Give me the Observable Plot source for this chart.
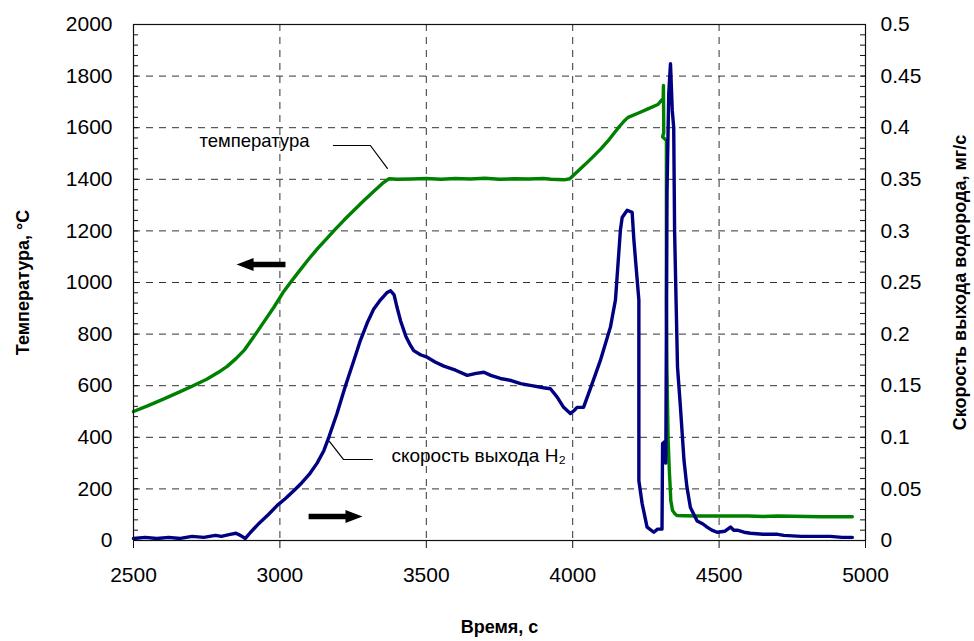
<!DOCTYPE html>
<html>
<head>
<meta charset="utf-8">
<script src="https://cdn.jsdelivr.net/npm/d3@7"></script>
<script src="https://cdn.jsdelivr.net/npm/@observablehq/plot@0.6"></script>
<style>
  html, body { margin: 0; padding: 0; background: #fff; }
  #chart svg { display: block; }
</style>
</head>
<body>
<div id="chart"></div>
<script>
// ---- Data ----
// Temperature, °C (left axis)
const tempTime = [2500, 2550, 2600, 2650, 2700, 2750, 2790, 2820, 2850, 2880, 2917, 2950, 2980, 3010, 3036, 3070, 3100, 3130, 3160, 3184, 3220, 3260, 3287, 3320, 3350, 3372, 3400, 3450, 3500, 3550, 3600, 3650, 3700, 3750, 3800, 3850, 3900, 3926, 3971, 3990, 4000, 4040, 4070, 4097, 4125, 4154, 4175, 4189, 4223, 4257, 4291, 4303, 4309, 4310, 4311, 4307, 4320, 4320, 4322, 4326, 4330, 4333, 4335, 4341, 4349, 4356, 4380, 4426, 4500, 4600, 4650, 4700, 4750, 4800, 4850, 4900, 4955];
const tempValue = [500, 523, 547, 572, 598, 625, 652, 675, 705, 740, 800, 855, 905, 960, 1000, 1050, 1093, 1133, 1170, 1200, 1243, 1288, 1318, 1353, 1384, 1402, 1400, 1401, 1403, 1400, 1403, 1401, 1404, 1400, 1402, 1401, 1403, 1400, 1398, 1402, 1413, 1455, 1488, 1519, 1555, 1597, 1625, 1640, 1656, 1673, 1690, 1706, 1712, 1764, 1580, 1565, 1550, 930, 659, 388, 271, 206, 155, 116, 104, 97, 96, 95, 95, 95, 93, 95, 94, 93, 92, 92, 92];

// Hydrogen release rate, mg/s (right axis)
const h2Time = [2500, 2540, 2580, 2620, 2660, 2700, 2740, 2780, 2800, 2830, 2850, 2865, 2882, 2900, 2930, 2960, 2991, 3020, 3050, 3075, 3100, 3127, 3150, 3167, 3195, 3224, 3252, 3275, 3300, 3320, 3343, 3365, 3378, 3390, 3400, 3412, 3430, 3446, 3457, 3480, 3500, 3530, 3560, 3600, 3640, 3670, 3697, 3720, 3753, 3790, 3822, 3860, 3900, 3924, 3947, 3969, 3992, 4005, 4015, 4037, 4060, 4094, 4129, 4146, 4163, 4169, 4186, 4203, 4209, 4218, 4226, 4226, 4237, 4254, 4277, 4290, 4305, 4307, 4315, 4318, 4322, 4328, 4334, 4340, 4345, 4348, 4353, 4358, 4368, 4380, 4390, 4402, 4425, 4445, 4459, 4475, 4493, 4520, 4539, 4550, 4562, 4585, 4607, 4650, 4700, 4721, 4780, 4836, 4880, 4920, 4955];
const h2Value = [0.002, 0.003, 0.002, 0.003, 0.002, 0.004, 0.003, 0.005, 0.004, 0.006, 0.007, 0.005, 0.002, 0.008, 0.017, 0.025, 0.034, 0.041, 0.049, 0.056, 0.064, 0.075, 0.087, 0.100, 0.123, 0.150, 0.174, 0.194, 0.212, 0.224, 0.233, 0.240, 0.242, 0.238, 0.226, 0.213, 0.198, 0.189, 0.184, 0.180, 0.178, 0.173, 0.169, 0.165, 0.160, 0.162, 0.163, 0.160, 0.157, 0.155, 0.152, 0.150, 0.148, 0.147, 0.139, 0.129, 0.123, 0.126, 0.129, 0.129, 0.147, 0.174, 0.207, 0.233, 0.301, 0.313, 0.320, 0.318, 0.291, 0.260, 0.233, 0.058, 0.036, 0.013, 0.008, 0.011, 0.011, 0.094, 0.096, 0.075, 0.336, 0.433, 0.462, 0.417, 0.400, 0.300, 0.233, 0.168, 0.129, 0.078, 0.052, 0.032, 0.019, 0.016, 0.013, 0.010, 0.008, 0.009, 0.013, 0.010, 0.010, 0.008, 0.007, 0.006, 0.006, 0.005, 0.004, 0.004, 0.004, 0.003, 0.003];

// Axes
const xTicks = [2500, 3000, 3500, 4000, 4500, 5000];
const tempTicks = [0, 200, 400, 600, 800, 1000, 1200, 1400, 1600, 1800, 2000];
const rateTicks = [0, 0.05, 0.1, 0.15, 0.2, 0.25, 0.3, 0.35, 0.4, 0.45, 0.5];
const minorTempTicks = d3.range(0, 2001, 40);
const RATE_MAX = 0.5, TEMP_MAX = 2000;
const rateToTemp = v => v * TEMP_MAX / RATE_MAX;

// Texts
const xTitle = "Время, с";
const yLeftTitle = "Температура, °С";
const yRightTitle = "Скорость выхода водорода, мг/с";

// Annotations (data coordinates)
const tempLabel = {s: "температура", x: 3101, y: 1550};
const h2Label = {s: "скорость выхода H₂", x: 3381, y: 329};
const leaderTempX = [3183, 3309, 3367];
const leaderTempY = [1531, 1531, 1442];
const leaderH2X = [3169, 3217, 3316];
const leaderH2Y = [384, 314, 314];
const arrowFrom = [3019, 3098];
const arrowTo = [2852, 3282];
const arrowY = [1070, 93];

// ---- Build tables ----
const tempRows = tempTime.map((t, i) => ({t, v: tempValue[i]}));
const h2Rows = h2Time.map((t, i) => ({t, v: h2Value[i]}));
const leaderTemp = leaderTempX.map((x, i) => ({x, y: leaderTempY[i]}));
const leaderH2 = leaderH2X.map((x, i) => ({x, y: leaderH2Y[i]}));
const arrows = arrowFrom.map((x1, i) => ({x1, x2: arrowTo[i], y: arrowY[i]}));
const rateTickPos = rateTicks.map(rateToTemp);

const arrowHead = {
  draw(ctx) {
    ctx.moveTo(0, 0);
    ctx.lineTo(-17, -6.5);
    ctx.lineTo(-17, 6.5);
    ctx.closePath();
  }
};

const W = 974, H = 641, ML = 133, MR = 109, MT = 24, MB = 101;
const plotW = W - ML - MR;
const TICK = 5;

const font = "'Liberation Sans', Arial, sans-serif";
const grid = {stroke: "#333", strokeOpacity: 1, strokeWidth: 1, strokeDasharray: "7,6"};

const chart = Plot.plot({
  width: W,
  height: H,
  marginLeft: ML,
  marginRight: MR,
  marginTop: MT,
  marginBottom: MB,
  x: {domain: [2500, 5000]},
  y: {domain: [0, 2000]},
  style: {fontFamily: font, fontSize: "21px", color: "black", background: "white"},
  marks: [
    Plot.gridX(xTicks.slice(1, -1), grid),
    Plot.gridY(tempTicks.slice(1, -1), grid),
    Plot.line(tempRows, {x: "t", y: "v", stroke: "#008000", strokeWidth: 3.4, strokeLinejoin: "round"}),
    Plot.line(h2Rows, {x: "t", y: d => rateToTemp(d.v), stroke: "#000080", strokeWidth: 3.4, strokeLinejoin: "round"}),
    Plot.frame({stroke: "#111", strokeWidth: 1.2}),
    Plot.axisX(xTicks, {tickSize: 8, tickPadding: 19, fontSize: 21, label: null, stroke: "#111", tickFormat: d => String(d)}),
    Plot.axisY(tempTicks, {anchor: "left", tickSize: 0, tickPadding: 21, fontSize: 21, label: null, tickFormat: d => String(d)}),
    Plot.axisY(rateTickPos, {anchor: "right", tickSize: 0, tickPadding: 15, fontSize: 21, label: null,
      tickFormat: d => String(+(d * RATE_MAX / TEMP_MAX).toFixed(2))}),
    // inward minor ticks on both vertical axes
    Plot.tickY(minorTempTicks, {y: d => d, stroke: "#111", insetRight: plotW - TICK}),
    Plot.tickY(minorTempTicks, {y: d => d, stroke: "#111", insetLeft: plotW - TICK}),
    // axis titles
    Plot.text([xTitle], {text: d => d, frameAnchor: "bottom", dy: 87, lineAnchor: "middle", textAnchor: "middle", fontWeight: "bold", fontSize: 18}),
    Plot.text([yLeftTitle], {text: d => d, frameAnchor: "left", dx: -110, rotate: -90, textAnchor: "middle", lineAnchor: "middle", fontWeight: "bold", fontSize: 18}),
    Plot.text([yRightTitle], {text: d => d, frameAnchor: "right", dx: 95, rotate: -90, textAnchor: "middle", lineAnchor: "middle", fontWeight: "bold", fontSize: 18}),
    // annotations
    Plot.line(leaderTemp, {x: "x", y: "y", stroke: "black", strokeWidth: 1.2}),
    Plot.line(leaderH2, {x: "x", y: "y", stroke: "black", strokeWidth: 1.2}),
    Plot.text([tempLabel], {x: "x", y: "y", text: "s", textAnchor: "end", fontSize: 18.5}),
    Plot.text([h2Label], {x: "x", y: "y", text: "s", textAnchor: "start", fontSize: 19}),
    Plot.arrow(arrows, {x1: "x1", x2: "x2", y1: "y", y2: "y", headLength: 0, insetEnd: 12, strokeWidth: 5.5, stroke: "black", strokeLinecap: "butt"}),
    Plot.dot(arrows, {x: "x2", y: "y", symbol: arrowHead, r: 5, fill: "black", stroke: "none", rotate: d => d.x2 < d.x1 ? 180 : 0})
  ]
});

document.getElementById("chart").appendChild(chart);
</script>
</body>
</html>
